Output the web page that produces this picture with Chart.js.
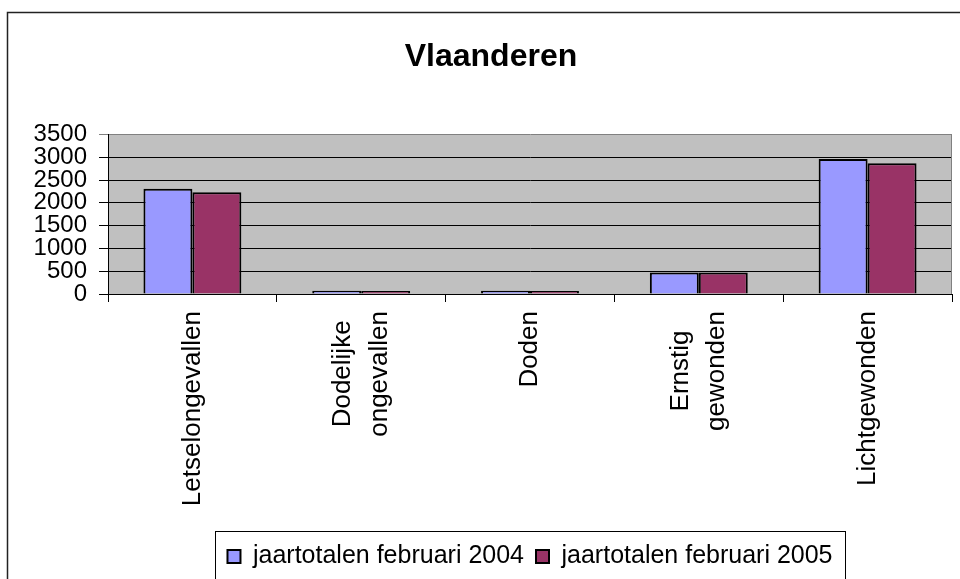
<!DOCTYPE html>
<html>
<head>
<meta charset="utf-8">
<script src="https://cdn.jsdelivr.net/npm/chart.js@4.4.1/dist/chart.umd.min.js"></script>
<style>
  html, body { margin: 0; padding: 0; background: #fff; }
  #wrap { width: 960px; height: 579px; }
</style>
</head>
<body>
<div id="wrap"><canvas id="grafiekVlaanderen"></canvas></div>
<script>
// gegevens
const categorieen = ['Letselongevallen', ['Dodelijke', 'ongevallen'], 'Doden', ['Ernstig', 'gewonden'], 'Lichtgewonden'];
const reeksNamen = ['jaartotalen februari 2004', 'jaartotalen februari 2005'];
const waarden2004 = [2310, 70, 70, 470, 2960];
const waarden2005 = [2230, 65, 65, 470, 2870];
const yTicks = [0, 500, 1000, 1500, 2000, 2500, 3000, 3500];

const lettertype = "'Liberation Sans', Arial, sans-serif";

// achtergrond, kaders rond grafiek, plotgebied en legende
const kaderPlugin = {
    id: 'kader',
    afterLayout(chart) {
        // labels met twee regels centreren zoals in Excel
        const schaal = chart.scales.x;
        if (!schaal || !schaal.getLabelItems) return;
        const ctx = chart.ctx;
        schaal.getLabelItems().forEach(item => {
            if (!Array.isArray(item.label)) return;
            const n = item.label.length;
            ctx.save();
            ctx.font = item.font.string;
            const breedte = Math.max(...item.label.map(t => ctx.measureText(t).width));
            ctx.restore();
            item.textOffset -= (n - 1) * item.font.lineHeight / 2;
            item.options.textAlign = 'center';
            item.options.translation[1] += breedte / 2;
        });
    },
    beforeDraw(chart) {
        const { ctx, chartArea: a } = chart;
        ctx.save();
        ctx.fillStyle = '#fff';
        ctx.fillRect(0, 0, chart.width, chart.height);
        ctx.strokeStyle = '#222';
        ctx.lineWidth = 1.5;
        ctx.strokeRect(7.5, 12.5, chart.width + 20, chart.height + 20);
        ctx.fillStyle = '#c0c0c0';
        ctx.fillRect(a.left, a.top, a.right - a.left, a.bottom - a.top);
        ctx.restore();
    },
    beforeDatasetsDraw(chart) {
        const { ctx, chartArea: a } = chart;
        ctx.save();
        ctx.strokeStyle = '#808080';
        ctx.lineWidth = 1;
        ctx.beginPath();
        ctx.moveTo(Math.round(a.right) - 0.5, a.top);
        ctx.lineTo(Math.round(a.right) - 0.5, a.bottom);
        ctx.stroke();
        ctx.restore();
    },
    afterDraw(chart) {
        const lg = chart.legend;
        const boxes = lg.legendHitBoxes;
        if (!boxes || !boxes.length) return;
        const eerste = boxes[0];
        const laatste = boxes[boxes.length - 1];
        const links = Math.round(eerste.left - 12) + 0.5;
        const rechts = Math.round(laatste.left + laatste.width + 12) + 0.5;
        const boven = Math.round(eerste.top - 13) + 0.5;
        const onder = Math.round(eerste.top + eerste.height + 11) + 0.5;
        const ctx = chart.ctx;
        ctx.save();
        ctx.strokeStyle = '#000';
        ctx.lineWidth = 1;
        ctx.strokeRect(links, boven, rechts - links, onder - boven);
        ctx.restore();
    }
};

new Chart(document.getElementById('grafiekVlaanderen'), {
    type: 'bar',
    data: {
        labels: categorieen,
        datasets: [{
            label: reeksNamen[0],
            data: waarden2004,
            backgroundColor: '#9999ff',
            borderColor: '#000',
            borderWidth: 2
        }, {
            label: reeksNamen[1],
            data: waarden2005,
            backgroundColor: '#993366',
            borderColor: '#000',
            borderWidth: 2
        }]
    },
    options: {
        responsive: true,
        maintainAspectRatio: false,
        animation: false,
        datasets: { bar: { categoryPercentage: 0.58, barPercentage: 1 } },
        layout: { padding: { left: 30, right: 8, top: 0, bottom: 0 } },
        plugins: {
            title: {
                display: true,
                text: 'Vlaanderen',
                color: '#000',
                font: { family: lettertype, size: 32, weight: 'bold', lineHeight: 1.2 },
                padding: { top: 38, bottom: 58 }
            },
            legend: {
                position: 'bottom',
                fullSize: false,
                labels: {
                    color: '#000',
                    font: { family: lettertype, size: 25 },
                    boxWidth: 13,
                    boxHeight: 13,
                    padding: 12
                }
            },
            tooltip: { enabled: false }
        },
        scales: {
            x: {
                grid: { offset: true, drawOnChartArea: false, color: '#000', tickLength: 8 },
                border: { color: '#000', width: 1 },
                ticks: {
                    color: '#000',
                    font: { family: lettertype, size: 26, lineHeight: 1.42 },
                    maxRotation: 90,
                    minRotation: 90,
                    autoSkip: false,
                    padding: 9
                },
                afterFit(scale) { scale.height = 238; }
            },
            y: {
                min: 0,
                max: 3500,
                afterBuildTicks(scale) { scale.ticks = yTicks.map(v => ({ value: v })); },
                grid: {
                    color: ctx => (ctx.tick && ctx.tick.value === 3500 ? '#808080' : '#000'),
                    tickLength: 9
                },
                border: { color: '#000', width: 1 },
                ticks: {
                    color: '#000',
                    font: { family: lettertype, size: 24, lineHeight: 1 },
                    autoSkip: false,
                    padding: 12,
                    callback: v => String(v)
                },
                afterFit(scale) { scale.width = 78; }
            }
        }
    },
    plugins: [kaderPlugin]
});
</script>
</body>
</html>
